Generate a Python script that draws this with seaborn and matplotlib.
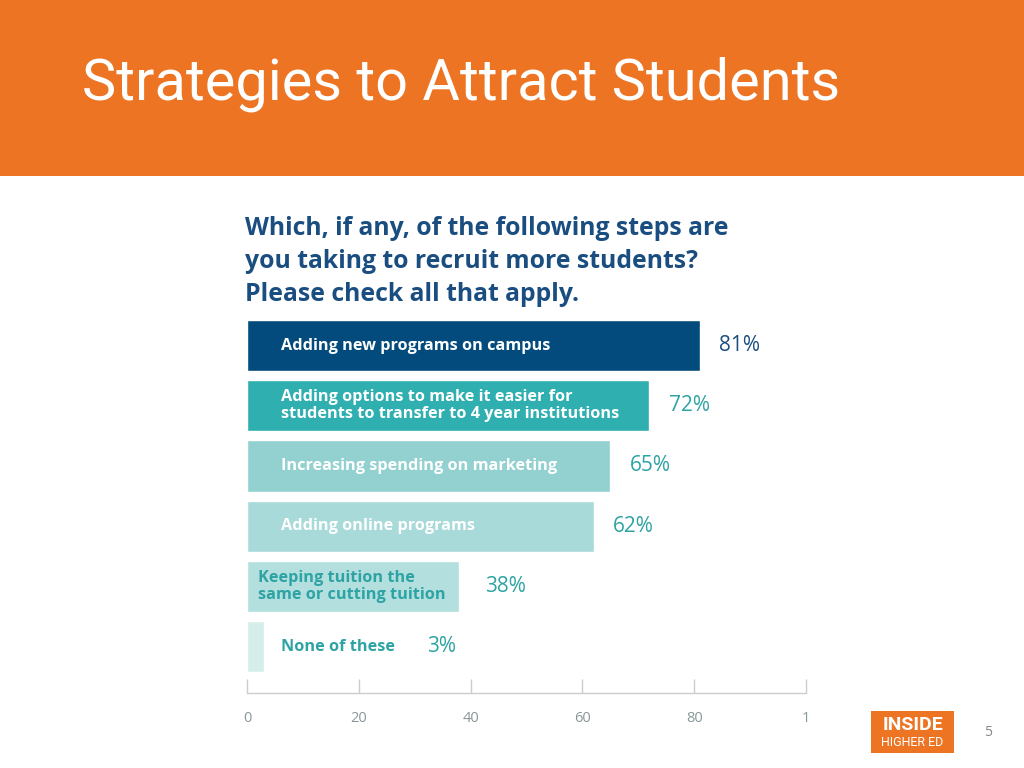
import pandas as pd
import matplotlib
matplotlib.use('Agg')
import matplotlib.pyplot as plt
import seaborn as sns

# survey data
labels = [
    "Adding new programs on campus",
    "Adding options to make it easier for\nstudents to transfer to 4 year institutions",
    "Increasing spending on marketing",
    "Adding online programs",
    "Keeping tuition the\nsame or cutting tuition",
    "None of these",
]
values = [81, 72, 65, 62, 38, 3]
tick_values = [0, 20, 40, 60, 80, 100]
tick_labels = ["0", "20", "40", "60", "80", "1"]

title = "Strategies to Attract Students"
question = "Which, if any, of the following steps are\nyou taking to recruit more students?\nPlease check all that apply."

bar_colors = ["#034B7C", "#2FAFB0", "#93D0D0", "#A8DADA", "#B3DFDE", "#D5EEEC"]
label_colors = ["white", "white", "white", "white", "#2EA3A4", "#2EA3A4"]
value_colors = ["#1B4E80", "#2EA3A4", "#2EA3A4", "#2EA3A4", "#2EA3A4", "#2EA3A4"]

sns.set_theme(style="white")
plt.rcParams['font.family'] = ['Open Sans', 'DejaVu Sans']

df = pd.DataFrame({"Strategy": labels, "Pct": values})

fig = plt.figure(figsize=(10.24, 7.68), dpi=100)
fig.patch.set_facecolor("white")

# orange header band
header = fig.add_axes([0, 1 - 176 / 768, 1, 176 / 768])
header.set_facecolor("#EC7422")
header.set_xticks([])
header.set_yticks([])
for s in header.spines.values():
    s.set_visible(False)
fig.text(82 / 1024, 1 - 84 / 768, title, color="white", fontsize=41.5,
         family=["Roboto", "DejaVu Sans"], va="center", ha="left")

# question text
fig.text(245 / 1024, 1 - 216 / 768, question, color="#1B4E80", fontsize=17.8,
         fontweight="bold", va="top", ha="left", linespacing=1.42)

ax = fig.add_axes([247 / 1024, 1 - 693 / 768, 559 / 1024, 378 / 768])
sns.barplot(data=df, x="Pct", y="Strategy", hue="Strategy", palette=bar_colors,
            legend=False, width=0.85, orient="h", ax=ax, saturation=1)

ax.set_xlim(0, 100)
ax.set_ylim(5.77, -0.507)
ax.set_xlabel("")
ax.set_ylabel("")
ax.set_yticks([])
ax.set_xticks(tick_values)
ax.set_xticklabels(tick_labels)
ax.tick_params(axis="x", direction="in", length=10, width=1, color="#CCCCCC",
               labelsize=10.5, labelcolor="#8A979A", pad=13, bottom=True)
for side in ["top", "right", "left"]:
    ax.spines[side].set_visible(False)
ax.spines["bottom"].set_color("#CCCCCC")
ax.spines["bottom"].set_linewidth(1)

# text inside / beside the bars
for i, (lab, v) in enumerate(zip(labels, values)):
    x_lab = 2 if i == 4 else 6
    ax.text(x_lab, i, lab, color=label_colors[i], fontsize=11.7, fontweight="bold",
            va="center", ha="left", linespacing=1.05)
    if i == len(values) - 1:
        # label drawn after the "None of these" text
        x_val = 32.3
    else:
        x_val = v + (3.5 if i < 4 else 4.6)
    ax.text(x_val, i, f"{v}%", color=value_colors[i], fontsize=15,
            va="center", ha="left")

# logo box and page number
logo = fig.add_axes([871 / 1024, 1 - 753 / 768, 83 / 1024, 42 / 768])
logo.set_facecolor("#EC7422")
logo.set_xticks([])
logo.set_yticks([])
for s in logo.spines.values():
    s.set_visible(False)
logo.text(0.5, 0.66, "INSIDE", color="white", fontsize=14, fontweight="bold",
          family=["Roboto", "DejaVu Sans"], ha="center", va="center", transform=logo.transAxes)
logo.text(0.5, 0.24, "HIGHER ED", color="white", fontsize=9,
          family=["Roboto", "DejaVu Sans"], ha="center", va="center", transform=logo.transAxes)
fig.text(988 / 1024, 1 - 733 / 768, "5", color="#888888", fontsize=10, ha="center", va="center")

fig.savefig("out.png", dpi=100)
